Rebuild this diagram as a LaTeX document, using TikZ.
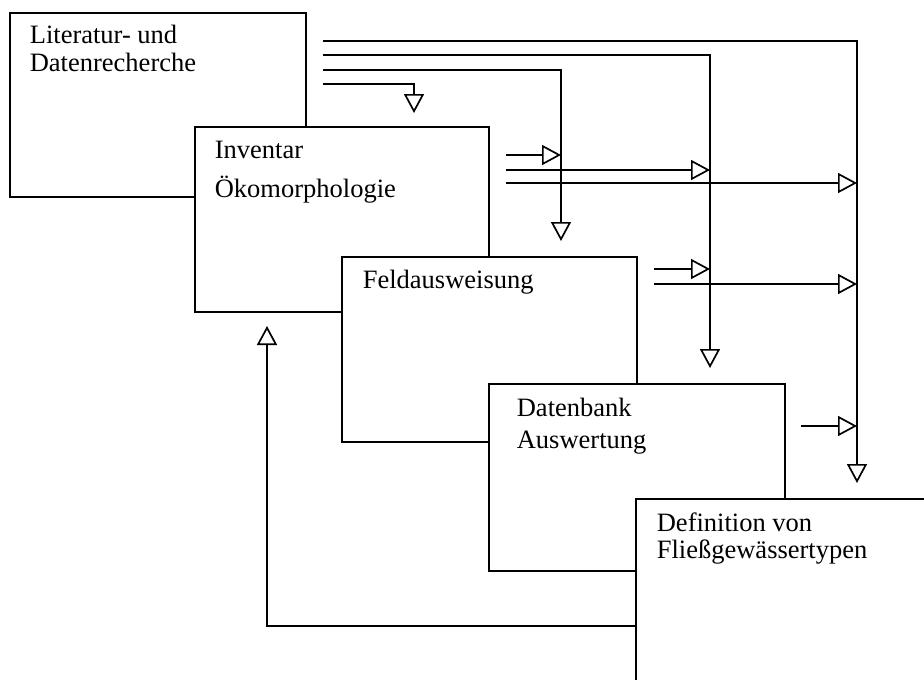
\documentclass[tikz,border=0pt]{standalone}
\usepackage{fontspec}
\setmainfont{Liberation Serif}
\usetikzlibrary{arrows.meta}
\begin{document}
\begin{tikzpicture}[x=1pt,y=-1pt,line width=1.7pt,
  box/.style={draw,fill=white,anchor=north west,inner sep=0pt,line width=1.9pt},
  lbl/.style={anchor=base west,inner sep=0pt,font=\fontsize{26.5}{31}\selectfont},
  flow/.style={-{Triangle[open,length=19pt,width=20pt,line width=1.7pt]}}]
\useasboundingbox (0,0) rectangle (924,680);
\clip (0,0) rectangle (924,680);
% connectors
\coordinate (s1) at (323,41);
\coordinate (s2) at (323,55);
\coordinate (s3) at (323,70);
\coordinate (s4) at (323,84);
\coordinate (e1) at (857,483);
\coordinate (e2) at (710,368);
\coordinate (e3) at (561,241);
\coordinate (e4) at (414,113);
\draw[flow] (s1) -| (e1);
\draw[flow] (s2) -| (e2);
\draw[flow] (s3) -| (e3);
\draw[flow] (s4) -| (e4);
\coordinate (r1s) at (506,155); \coordinate (r1e) at (561,155);
\coordinate (r2s) at (506,170); \coordinate (r2e) at (710,170);
\coordinate (r3s) at (506,183); \coordinate (r3e) at (857,183);
\coordinate (r4s) at (654,269); \coordinate (r4e) at (710,269);
\coordinate (r5s) at (654,284); \coordinate (r5e) at (857,284);
\coordinate (r6s) at (801,426); \coordinate (r6e) at (857,426);
\draw[flow] (r1s) -- (r1e);
\draw[flow] (r2s) -- (r2e);
\draw[flow] (r3s) -- (r3e);
\draw[flow] (r4s) -- (r4e);
\draw[flow] (r5s) -- (r5e);
\draw[flow] (r6s) -- (r6e);
\coordinate (fbs) at (636,626);
\coordinate (fbe) at (267,326);
\draw[flow] (fbs) -| (fbe);
% boxes
\node[box,minimum width=296pt,minimum height=184pt] (b1) at (9,12) {};
\node[lbl] (t1a) at (29,43) {Literatur- und};
\node[lbl] (t1b) at (29,71) {Datenrecherche};
\node[box,minimum width=294pt,minimum height=185pt] (b2) at (194,126) {};
\node[lbl] (t2a) at (214,158) {Inventar};
\node[lbl] (t2b) at (214,197) {Ökomorphologie};
\node[box,minimum width=295pt,minimum height=185pt] (b3) at (341,256) {};
\node[lbl] (t3a) at (362,288) {Feldausweisung};
\node[box,minimum width=296pt,minimum height=187pt] (b4) at (488,383) {};
\node[lbl] (t4a) at (516,416) {Datenbank};
\node[lbl] (t4b) at (516,448) {Auswertung};
\node[box,minimum width=320pt,minimum height=220pt] (b5) at (635,498) {};
\node[lbl] (t5a) at (656,531) {Definition von};
\node[lbl] (t5b) at (656,558) {Fließgewässertypen};
\end{tikzpicture}
\end{document}
